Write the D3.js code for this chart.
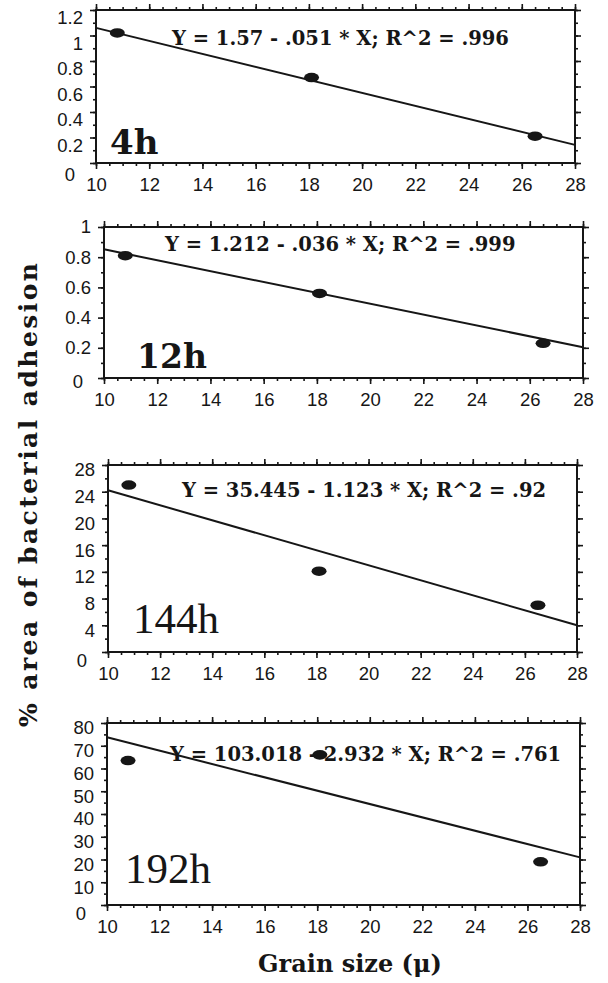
<!DOCTYPE html>
<html>
<head>
<meta charset="utf-8">
<script src="https://cdn.jsdelivr.net/npm/d3@7"></script>
<style>
  html, body { margin: 0; padding: 0; background: #fff; }
  svg { display: block; }
</style>
</head>
<body>
<div id="chart"></div>
<script>
// ---- data ----
const grainSize = [10.8, 18.1, 26.5];

const panelNames = ["4h", "12h", "144h", "192h"];

const adhesion4h   = [1.02, 0.67, 0.21];
const adhesion12h  = [0.81, 0.56, 0.23];
const adhesion144h = [25.0, 12.1, 7.0];
const adhesion192h = [63.5, 66.0, 19.0];

// regression lines as printed in each panel
const intercepts = [1.57, 1.212, 35.445, 103.018];
const slopes     = [-0.051, -0.036, -1.123, -2.932];
const eqLabels = [
  "Y = 1.57 - .051 * X; R^2 = .996",
  "Y = 1.212 - .036 * X; R^2 = .999",
  "Y = 35.445 - 1.123 * X; R^2 = .92",
  "Y = 103.018 - 2.932 * X; R^2 = .761"
];

const xTicks = [10, 12, 14, 16, 18, 20, 22, 24, 26, 28];
const yTicks4h   = [0, 0.2, 0.4, 0.6, 0.8, 1, 1.2];
const yTicks12h  = [0, 0.2, 0.4, 0.6, 0.8, 1];
const yTicks144h = [0, 4, 8, 12, 16, 20, 24, 28];
const yTicks192h = [0, 10, 20, 30, 40, 50, 60, 70, 80];

const yDomains = [[0, 1.2], [0, 1], [0, 28], [0, 80]];
const yMinorSteps = [0.1, 0.1, 2, 5];

const yTitle = "% area of bacterial adhesion";
const xTitle = "Grain size (\u03bc)";

// ---- layout (pixels) ----
const W = 608, H = 983;
const layout = [
  { left: 96,  top: 10,  right: 575, bottom: 163, eqX: 172, eqY: 45,  tagX: 110, tagY: 154, labelDy: 8, tagFont: "bold 34px 'DejaVu Serif'" },
  { left: 104, top: 227, right: 583, bottom: 378, eqX: 165, eqY: 251, tagX: 137, tagY: 368, labelDy: 0, tagFont: "bold 33px 'DejaVu Serif'" },
  { left: 108, top: 465, right: 577, bottom: 652, eqX: 182, eqY: 497, tagX: 133, tagY: 633, labelDy: 5, tagFont: "43px 'Liberation Serif'" },
  { left: 107, top: 723, right: 580, bottom: 905, eqX: 170, eqY: 761, tagX: 125, tagY: 883, labelDy: 5, tagFont: "43px 'Liberation Serif'" }
];

const ink = "#161616";
const tickFont = "'Liberation Sans', Arial, sans-serif";
const serifBold = "'DejaVu Serif', serif";

const svg = d3.select("#chart").append("svg")
  .attr("width", W)
  .attr("height", H);

const seriesList = [adhesion4h, adhesion12h, adhesion144h, adhesion192h];
const yTickList = [yTicks4h, yTicks12h, yTicks144h, yTicks192h];

function drawPanel(i) {
  const L = layout[i];
  const x = d3.scaleLinear().domain([10, 28]).range([L.left, L.right]);
  const y = d3.scaleLinear().domain(yDomains[i]).range([L.bottom, L.top]);

  const g = svg.append("g");

  const xMinor = d3.range(10, 28.001, 0.5);
  const yMinor = d3.range(yDomains[i][0], yDomains[i][1] + 1e-6, yMinorSteps[i]);

  // minor ticks on all four sides, pointing out
  const minor = [
    [d3.axisBottom(x).tickValues(xMinor), `translate(0,${L.bottom})`],
    [d3.axisTop(x).tickValues(xMinor), `translate(0,${L.top})`],
    [d3.axisLeft(y).tickValues(yMinor), `translate(${L.left},0)`],
    [d3.axisRight(y).tickValues(yMinor), `translate(${L.right},0)`]
  ];
  minor.forEach(([ax, tr]) => {
    g.append("g")
      .attr("transform", tr)
      .call(ax.tickSize(3).tickFormat(""))
      .call(s => s.select(".domain").remove())
      .call(s => s.selectAll("line").attr("stroke", ink).attr("stroke-width", 1.4));
  });

  // major ticks
  g.append("g")
    .attr("transform", `translate(0,${L.bottom})`)
    .call(d3.axisBottom(x).tickValues(xTicks).tickSize(6).tickPadding(9).tickFormat(d3.format("d")))
    .call(s => s.select(".domain").remove());

  g.append("g")
    .attr("transform", `translate(0,${L.top})`)
    .call(d3.axisTop(x).tickValues(xTicks).tickSize(6).tickFormat(""))
    .call(s => s.select(".domain").remove());

  const yAx = g.append("g")
    .attr("transform", `translate(${L.left},0)`)
    .call(d3.axisLeft(y).tickValues(yTickList[i]).tickSize(6).tickPadding(7).tickFormat(d3.format("~g")))
    .call(s => s.select(".domain").remove());

  // labels sit a little below their ticks in the original; "0" is tucked into the corner
  yAx.selectAll(".tick text")
    .attr("transform", d => d === 0 ? `translate(-8,${L.labelDy + 4})` : `translate(0,${L.labelDy})`);

  g.append("g")
    .attr("transform", `translate(${L.right},0)`)
    .call(d3.axisRight(y).tickValues(yTickList[i]).tickSize(6).tickFormat(""))
    .call(s => s.select(".domain").remove());

  g.selectAll(".tick line").attr("stroke", ink).attr("stroke-width", 1.6);
  g.selectAll(".tick text")
    .attr("fill", ink)
    .style("font-family", tickFont)
    .style("font-size", "18.5px");

  // frame
  g.append("rect")
    .attr("x", L.left)
    .attr("y", L.top)
    .attr("width", L.right - L.left)
    .attr("height", L.bottom - L.top)
    .attr("fill", "none")
    .attr("stroke", ink)
    .attr("stroke-width", 2);

  // equation label
  g.append("text")
    .attr("x", L.eqX)
    .attr("y", L.eqY)
    .attr("fill", ink)
    .style("font-family", serifBold)
    .style("font-weight", "bold")
    .style("font-size", "19.5px")
    .text(eqLabels[i]);

  // time tag
  g.append("text")
    .attr("x", L.tagX)
    .attr("y", L.tagY)
    .attr("fill", ink)
    .style("font", L.tagFont)
    .text(panelNames[i]);

  // regression line
  const fit = d3.line()
    .x(d => x(d))
    .y(d => y(intercepts[i] + slopes[i] * d));

  g.append("path")
    .datum(x.domain())
    .attr("fill", "none")
    .attr("stroke", ink)
    .attr("stroke-width", 2)
    .attr("d", fit);

  // points
  g.selectAll("ellipse.pt")
    .data(seriesList[i].map((v, k) => ({ x: grainSize[k], y: v })))
    .enter()
    .append("ellipse")
    .attr("class", "pt")
    .attr("cx", d => x(d.x))
    .attr("cy", d => y(d.y))
    .attr("rx", 7.5)
    .attr("ry", 4.8)
    .attr("fill", ink);
}

panelNames.forEach((_, i) => drawPanel(i));

// axis titles
svg.append("text")
  .attr("transform", "translate(37,495) rotate(-90)")
  .attr("text-anchor", "middle")
  .attr("fill", ink)
  .attr("textLength", 464)
  .attr("lengthAdjust", "spacing")
  .style("font-family", serifBold)
  .style("font-weight", "bold")
  .style("font-size", "25px")
  .text(yTitle);

svg.append("text")
  .attr("x", 350)
  .attr("y", 972)
  .attr("text-anchor", "middle")
  .attr("fill", ink)
  .style("font-family", serifBold)
  .style("font-weight", "bold")
  .style("font-size", "24px")
  .text(xTitle);
</script>
</body>
</html>
